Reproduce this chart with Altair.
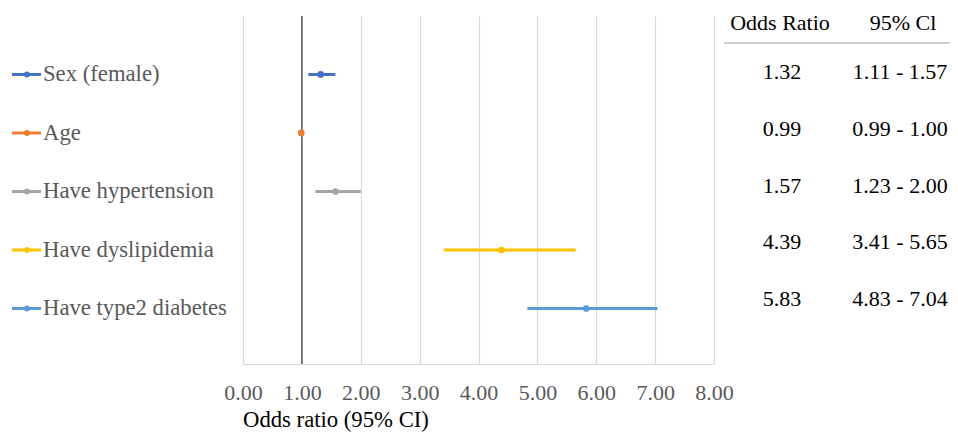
import altair as alt
import pandas as pd

labels = ["Sex (female)", "Age", "Have hypertension", "Have dyslipidemia", "Have type2 diabetes"]
odds = [1.32, 0.99, 1.57, 4.39, 5.83]
ci_low = [1.11, 0.99, 1.23, 3.41, 4.83]
ci_high = [1.57, 1.00, 2.00, 5.65, 7.04]
or_text = ["1.32", "0.99", "1.57", "4.39", "5.83"]
ci_text = ["1.11 - 1.57", "0.99 - 1.00", "1.23 - 2.00", "3.41 - 5.65", "4.83 - 7.04"]
colors = ["#4472C4", "#ED7D31", "#A5A5A5", "#FFC000", "#5B9BD5"]
x_ticks = [0, 1, 2, 3, 4, 5, 6, 7, 8]
headers = ["Odds Ratio", "95% Cl"]
x_title = "Odds ratio (95% CI)"

FONT = "Liberation Serif"

df = pd.DataFrame({"label": labels, "or": odds, "lo": ci_low, "hi": ci_high,
                   "or_t": or_text, "ci_t": ci_text})

base = alt.Chart(df)
y_enc = alt.Y("label:N", sort=labels,
              scale=alt.Scale(type="point", padding=0.974, align=0.513), axis=None)
color_enc = alt.Color("label:N", scale=alt.Scale(domain=labels, range=colors), legend=None)

x_scale = alt.Scale(domain=[0, 8], nice=False)
bars = base.mark_rule(strokeWidth=3).encode(
    x=alt.X("lo:Q", scale=x_scale,
            axis=alt.Axis(values=x_ticks, format=".2f", grid=True, ticks=False, title=None,
                          labelPadding=18, labelFlush=False, labelOverlap=False)),
    x2="hi:Q", y=y_enc, color=color_enc)

ref = alt.Chart(pd.DataFrame({"v": [1]})).mark_rule(color="#595959", strokeWidth=1.5).encode(
    x=alt.X("v:Q", scale=x_scale))

pts = base.mark_point(filled=True, size=45, opacity=1).encode(
    x=alt.X("or:Q", scale=x_scale), y=y_enc, color=color_enc)

leg_line = base.mark_rule(strokeWidth=3).encode(
    x=alt.value(-231), x2=alt.value(-202), y=y_enc, color=color_enc)
leg_dot = base.mark_point(filled=True, size=35, opacity=1).encode(
    x=alt.value(-216), y=y_enc, color=color_enc)
leg_text = base.mark_text(align="left", baseline="middle", font=FONT, fontSize=22.7,
                          color="#595959").encode(x=alt.value(-200), y=y_enc, text="label:N")

y_tab = alt.Y("label:N", sort=labels, scale=alt.Scale(type="point", range=[56, 283], padding=0),
              axis=None)
tab_or = base.mark_text(align="center", baseline="middle", font=FONT, fontSize=22,
                        color="black").encode(x=alt.value(539), y=y_tab, text="or_t:N")
tab_ci = base.mark_text(align="center", baseline="middle", font=FONT, fontSize=22,
                        color="black").encode(x=alt.value(657), y=y_tab, text="ci_t:N")

hdr1 = alt.Chart(pd.DataFrame({"h": [headers[0]]})).mark_text(
    align="center", baseline="middle", font=FONT, fontSize=22, color="black").encode(
    x=alt.value(537), y=alt.value(7), text="h:N")
hdr2 = alt.Chart(pd.DataFrame({"h": [headers[1]]})).mark_text(
    align="center", baseline="middle", font=FONT, fontSize=22, color="black").encode(
    x=alt.value(660), y=alt.value(7), text="h:N")
hline = alt.Chart(pd.DataFrame({"h": [0]})).mark_rule(color="#bfbfbf", strokeWidth=1.5).encode(
    x=alt.value(481), x2=alt.value(712), y=alt.value(27))

title = alt.Chart(pd.DataFrame({"t": [x_title]})).mark_text(
    align="left", baseline="middle", font=FONT, fontSize=22.7, color="black").encode(
    x=alt.value(0), y=alt.value(404), text="t:N")

chart = alt.layer(bars, ref, pts, leg_line, leg_dot, leg_text, tab_or, tab_ci,
                  hdr1, hdr2, hline, title).resolve_scale(y="independent").properties(
    width=471, height=348,
    autosize=alt.AutoSizeParams(type="none"),
    padding={"left": 235, "top": 8, "right": 236, "bottom": 69},
).configure_view(stroke=None).configure_axis(
    labelFont=FONT, labelFontSize=22, labelColor="#595959",
    domainColor="#d9d9d9", gridColor="#d9d9d9", gridWidth=1.2, domainWidth=1.2,
)

chart.save("out.html", embed_options={"renderer": "svg", "actions": False})
